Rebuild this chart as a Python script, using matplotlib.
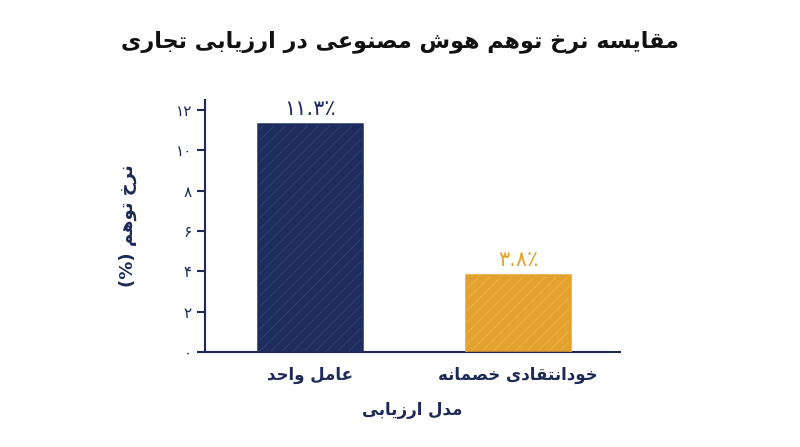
import matplotlib
matplotlib.use("Agg")
import matplotlib.pyplot as plt

# --- data ---
categories = ["عامل واحد", "خودانتقادی خصمانه"]
values = [11.3, 3.8]
value_labels = ["۱۱.۳٪", "۳.۸٪"]
yticks = [0, 2, 4, 6, 8, 10, 12]
ytick_labels = ["۰", "۲", "۴", "۶", "۸", "۱۰", "۱۲"]
title = "مقایسه نرخ توهم هوش مصنوعی در ارزیابی تجاری"
ylabel = "نرخ توهم (%)"
xlabel = "مدل ارزیابی"
colors = ["#1f2c5e", "#e3a22e"]
hatch_colors = ["#34457a", "#eeb54a"]
ink = "#1c2a55"

FORMS = {
    'ا': (0xFE8D, 0xFE8E, None, None), 'ب': (0xFE8F, 0xFE90, 0xFE91, 0xFE92),
    'ت': (0xFE95, 0xFE96, 0xFE97, 0xFE98), 'ج': (0xFE9D, 0xFE9E, 0xFE9F, 0xFEA0),
    'ح': (0xFEA1, 0xFEA2, 0xFEA3, 0xFEA4), 'خ': (0xFEA5, 0xFEA6, 0xFEA7, 0xFEA8),
    'د': (0xFEA9, 0xFEAA, None, None), 'ر': (0xFEAD, 0xFEAE, None, None),
    'ز': (0xFEAF, 0xFEB0, None, None), 'س': (0xFEB1, 0xFEB2, 0xFEB3, 0xFEB4),
    'ش': (0xFEB5, 0xFEB6, 0xFEB7, 0xFEB8), 'ص': (0xFEB9, 0xFEBA, 0xFEBB, 0xFEBC),
    'ع': (0xFEC9, 0xFECA, 0xFECB, 0xFECC), 'ق': (0xFED5, 0xFED6, 0xFED7, 0xFED8),
    'ل': (0xFEDD, 0xFEDE, 0xFEDF, 0xFEE0), 'م': (0xFEE1, 0xFEE2, 0xFEE3, 0xFEE4),
    'ن': (0xFEE5, 0xFEE6, 0xFEE7, 0xFEE8), 'ه': (0xFEE9, 0xFEEA, 0xFEEB, 0xFEEC),
    'و': (0xFEED, 0xFEEE, None, None), 'ی': (0xFEEF, 0xFEF0, 0xFEF3, 0xFEF4),
}

def shape_word(w):
    out = []
    n = len(w)
    for i, ch in enumerate(w):
        f = FORMS.get(ch)
        if f is None:
            out.append(ch); continue
        prev = w[i - 1] if i > 0 else None
        nxt = w[i + 1] if i < n - 1 else None
        jp = prev in FORMS and FORMS[prev][2] is not None
        jn = nxt in FORMS and f[2] is not None
        if jp and jn: c = f[3]
        elif jp: c = f[1]
        elif jn: c = f[2]
        else: c = f[0]
        out.append(chr(c))
    return "".join(reversed(out))

def rtl(s):
    res = [w if w == "(%)" else shape_word(w) for w in s.split(" ")]
    return " ".join(reversed(res))

plt.rcParams['font.family'] = ['DejaVu Sans']
plt.rcParams['hatch.linewidth'] = 0.6
fig = plt.figure(figsize=(8, 4.47), dpi=100)
ax = fig.add_axes([205/800, 1-352/447, 415/800, 252/447])
x = list(range(len(categories)))
ax.bar(x, values, width=0.5, color=colors, edgecolor=hatch_colors, linewidth=0,
       hatch="///", zorder=2)
ax.bar(x, values, width=0.5, fill=False, edgecolor=colors, linewidth=1.8, zorder=3)
for xi, v, lab, c in zip(x, values, value_labels, colors):
    ax.text(xi, v + 0.25, lab, ha="center", va="bottom", fontsize=15, color=c)
ax.set_xlim(-0.505, 1.49)
ax.set_ylim(0, 12.5)
ax.set_yticks(yticks)
ax.set_yticklabels(ytick_labels, fontsize=11, color=ink)
ax.set_xticks(x)
ax.set_xticklabels([rtl(c) for c in categories], fontsize=12, color=ink, fontweight="bold")
ax.tick_params(axis="x", length=0, pad=10)
ax.tick_params(axis="y", color=ink, width=1.5, length=6)
for s in ["top", "right"]:
    ax.spines[s].set_visible(False)
for s in ["left", "bottom"]:
    ax.spines[s].set_color(ink); ax.spines[s].set_linewidth(1.5)
ax.set_ylabel(rtl(ylabel), fontsize=13, color=ink, fontweight="bold", labelpad=28)
ax.set_xlabel(rtl(xlabel), fontsize=12, color=ink, fontweight="bold", labelpad=12)
fig.text(0.5, 1-42/447, rtl(title), ha="center", va="center", fontsize=16,
         fontweight="bold", color="#111111")
fig.savefig("out.png", dpi=100, facecolor="white")
